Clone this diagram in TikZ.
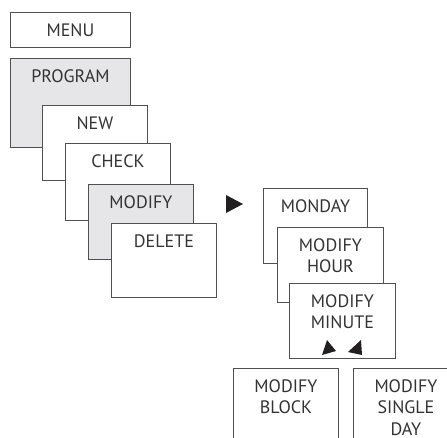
\documentclass[tikz,border=0pt]{standalone}
\usepackage{fontspec}
\setmainfont{PT Sans}
\definecolor{boxline}{HTML}{505050}
\definecolor{boxgray}{HTML}{E6E6E8}
\definecolor{boxtext}{HTML}{333333}
\definecolor{tipdark}{HTML}{231F20}
\begin{document}
\begin{tikzpicture}[x=1pt, y=-1pt, line width=0.9pt]
        % Stili
        \tikzstyle{menubox} = [draw=boxline, fill=white, rectangle, anchor=north west, inner sep=0pt, align=center, text=boxtext, text height=24pt, font=\fontsize{18}{21.5}\selectfont]
        \tikzstyle{active} = [menubox, fill=boxgray]
        \tikzstyle{twolines} = [text height=45.5pt]
        \tikzstyle{threelines} = [text height=67pt]

        \clip (0,0) rectangle (447,437);

        % --- Menu principale ---
        \node [menubox, minimum width=120pt, text depth=11pt] (menu) at (10,12) {MENU};
        \node [active, minimum width=120pt, text depth=65pt] (program) at (10,58) {PROGRAM};

        % Sottomenu programma
        \node [menubox, minimum width=105pt, text depth=51pt] (new) at (42,105) {NEW};
        \node [menubox, minimum width=105pt, text depth=53pt] (check) at (65,143) {CHECK};
        \node [active, minimum width=105pt, text depth=51pt] (modify) at (88,184) {MODIFY};
        \node [menubox, minimum width=105pt, text depth=50pt] (delete) at (111,223) {DELETE};

        % Freccia verso il sottomenu
        \fill [tipdark] (226,195) -- (243,204) -- (226,213) -- cycle;

        % --- Sottomenu modifica ---
        \node [menubox, minimum width=104pt, text depth=51pt] (monday) at (263,188) {MONDAY};
        \node [menubox, twolines, minimum width=106pt, text depth=29.5pt] (mod_hour) at (277,227) {MODIFY\\HOUR};
        \node [menubox, twolines, minimum width=106pt, text depth=29.5pt] (mod_minute) at (289,283) {MODIFY\\MINUTE};

        % Frecce di scelta
        \fill [tipdark] (327,340) -- (336,351) -- (322,355) -- cycle;
        \fill [tipdark] (361,340) -- (362,355) -- (348,352) -- cycle;

        % Blocchi finali
        \node [menubox, twolines, minimum width=105pt, text depth=54.5pt] (mod_block) at (233,368) {MODIFY\\BLOCK};
        \node [menubox, threelines, minimum width=105pt, text depth=33pt] (mod_day) at (353,368) {MODIFY\\SINGLE\\DAY};

    \end{tikzpicture}
\end{document}
